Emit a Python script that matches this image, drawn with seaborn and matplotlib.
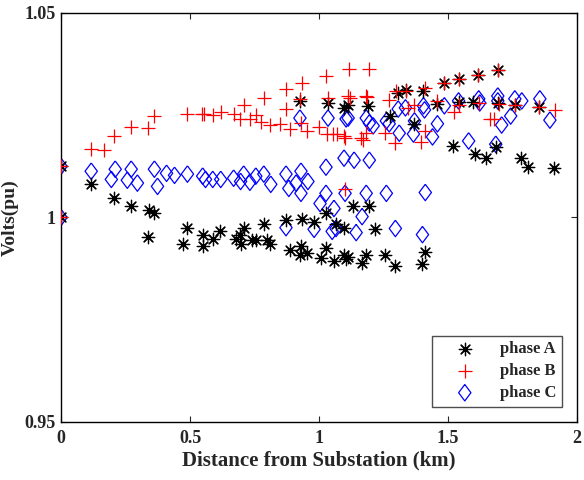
import matplotlib
matplotlib.use("Agg")
import matplotlib.pyplot as plt
import pandas as pd
import seaborn as sns

# distance from substation (km) and voltage (pu)
phase_a_km = [0, 0, 0.117, 0.206, 0.272, 0.342, 0.362, 0.339, 0.490, 0.471,
              0.549, 0.549, 0.588, 0.615, 0.677, 0.693, 0.708, 0.696, 0.739, 0.755,
              0.786, 0.798, 0.809, 0.872, 0.934, 0.981, 1.027, 1.066, 1.097, 0.887,
              0.930, 0.926, 0.953, 1.008, 1.027, 1.058, 1.097, 1.105, 1.113, 1.167,
              1.183, 1.257, 1.296, 1.401, 1.412, 1.132, 1.195, 1.218, 1.518, 1.603,
              1.646, 1.685, 1.782, 1.809, 1.911, 0.926, 1.035, 1.097, 1.113, 1.191,
              1.276, 1.370, 1.307, 1.339, 1.405, 1.459, 1.486, 1.541, 1.615, 1.693,
              1.541, 1.595, 1.693, 1.759, 1.852]
phase_a_pu = [1.0125, 1.0, 1.0081, 1.0047, 1.0029, 1.0017, 1.0012, 0.9951, 0.9973, 0.9934,
              0.9958, 0.9929, 0.9948, 0.9968, 0.9948, 0.9956, 0.9975, 0.9934, 0.9946, 0.9946,
              0.9983, 0.9946, 0.9934, 0.9993, 0.9995, 0.9988, 1.0010, 0.9983, 0.9973, 0.9921,
              0.9931, 0.9907, 0.9912, 0.9902, 0.9926, 0.9894, 0.9907, 0.9899, 0.9904, 0.9889,
              0.9909, 0.9909, 0.9882, 0.9887, 0.9916, 1.0027, 1.0027, 0.9971, 1.0174, 1.0155,
              1.0145, 1.0172, 1.0145, 1.0123, 1.0120, 1.0285, 1.0280, 1.0268, 1.0275, 1.0273,
              1.0248, 1.0229, 1.0305, 1.0312, 1.0310, 1.0278, 1.0329, 1.0339, 1.0349, 1.0361,
              1.0283, 1.0283, 1.0280, 1.0275, 1.0270]

phase_b_km = [0, 0, 0.117, 0.167, 0.206, 0.272, 0.339, 0.362, 0.490, 0.545,
              0.553, 0.591, 0.619, 0.669, 0.693, 0.708, 0.732, 0.755, 0.774, 0.786,
              0.809, 0.848, 0.872, 0.872, 0.887, 0.934, 0.926, 0.930, 0.953, 1.000,
              1.027, 1.035, 1.031, 1.054, 1.070, 1.097, 1.101, 1.117, 1.195, 1.113,
              1.183, 1.121, 1.187, 1.163, 1.183, 1.171, 1.257, 1.272, 1.296, 1.300,
              1.339, 1.346, 1.370, 1.397, 1.409, 1.409, 1.459, 1.486, 1.525, 1.541,
              1.541, 1.615, 1.619, 1.661, 1.677, 1.693, 1.696, 1.759, 1.852, 1.914,
              1.101]
phase_b_pu = [1.0125, 1.0, 1.0167, 1.0165, 1.0199, 1.0221, 1.0219, 1.0248, 1.0253, 1.0253,
              1.0253, 1.0251, 1.0258, 1.0253, 1.0241, 1.0275, 1.0241, 1.0251, 1.0233, 1.0292,
              1.0226, 1.0229, 1.0314, 1.0265, 1.0216, 1.0329, 1.0290, 1.0231, 1.0211, 1.0221,
              1.0346, 1.0292, 1.0204, 1.0204, 1.0204, 1.0199, 1.0194, 1.0364, 1.0364, 1.0297,
              1.0297, 1.0292, 1.0295, 1.0194, 1.0206, 1.0189, 1.0206, 1.0287, 1.0182, 1.0310,
              1.0310, 1.0268, 1.0275, 1.0184, 1.0211, 1.0317, 1.0285, 1.0329, 1.0258, 1.0275,
              1.0339, 1.0349, 1.0280, 1.0241, 1.0241, 1.0361, 1.0278, 1.0275, 1.0270, 1.0263,
              1.0069]

phase_c_km = [0, 0, 0.117, 0.195, 0.210, 0.272, 0.257, 0.296, 0.362, 0.374,
              0.409, 0.440, 0.490, 0.549, 0.560, 0.588, 0.619, 0.669, 0.696, 0.708,
              0.732, 0.755, 0.786, 0.813, 0.872, 0.883, 0.930, 0.911, 0.930, 0.957,
              0.926, 1.035, 1.105, 1.027, 1.097, 1.136, 1.195, 1.004, 1.027, 1.058,
              1.101, 1.183, 1.261, 1.412, 0.872, 0.981, 1.051, 1.066, 1.144, 1.167,
              1.296, 1.401, 1.113, 1.183, 1.195, 1.210, 1.272, 1.261, 1.307, 1.311,
              1.335, 1.366, 1.405, 1.409, 1.440, 1.459, 1.486, 1.541, 1.580, 1.619,
              1.623, 1.693, 1.693, 1.708, 1.743, 1.759, 1.786, 1.856, 1.895, 1.685,
              1.370]
phase_c_pu = [1.0125, 1.0, 1.0113, 1.0093, 1.0118, 1.0118, 1.0091, 1.0084, 1.0118, 1.0076,
              1.0108, 1.0103, 1.0106, 1.0101, 1.0093, 1.0093, 1.0093, 1.0096, 1.0088, 1.0106,
              1.0086, 1.0101, 1.0106, 1.0081, 1.0106, 1.0071, 1.0113, 1.0084, 1.0059, 1.0088,
              1.0243, 1.0243, 1.0241, 1.0123, 1.0145, 1.0140, 1.0140, 1.0034, 1.0059, 1.0022,
              1.0059, 1.0059, 1.0059, 1.0061, 0.9975, 0.9971, 0.9966, 0.9973, 0.9963, 1.0002,
              0.9973, 0.9958, 1.0243, 1.0243, 1.0231, 1.0224, 1.0229, 1.0236, 1.0265, 1.0206,
              1.0268, 1.0204, 1.0273, 1.0263, 1.0197, 1.0229, 1.0273, 1.0285, 1.0187, 1.0290,
              1.0280, 1.0297, 1.0285, 1.0226, 1.0248, 1.0290, 1.0285, 1.0290, 1.0238, 1.0179,
              1.0236]

x_ticks = [0, 0.5, 1, 1.5, 2]
x_tick_labels = ["0", "0.5", "1", "1.5", "2"]
y_ticks = [0.95, 1.0, 1.05]
y_tick_labels = ["0.95", "1", "1.05"]

sns.set_style("white")
plt.rcParams['font.family'] = ['Liberation Serif', 'DejaVu Serif']
plt.rcParams['font.weight'] = 'bold'

fig = plt.figure(figsize=(5.84, 4.8), dpi=100)
ax = fig.add_axes([0.1045, 0.121, 0.8835, 0.852])

df_a = pd.DataFrame({'km': phase_a_km, 'pu': phase_a_pu})
df_b = pd.DataFrame({'km': phase_b_km, 'pu': phase_b_pu})
df_c = pd.DataFrame({'km': phase_c_km, 'pu': phase_c_pu})

# matlab style diamond, a bit taller than wide
diamond = [(0, 1), (0.75, 0), (0, -1), (-0.75, 0), (0, 1)]

sns.scatterplot(data=df_c, x='km', y='pu', ax=ax, marker=diamond, s=140,
                facecolor='none', edgecolor='blue', linewidth=0.9, label='phase C', zorder=2)
sns.scatterplot(data=df_a, x='km', y='pu', ax=ax, marker=(8, 2, 0), s=80,
                color='black', linewidth=0.9, label='phase A', zorder=3)
sns.scatterplot(data=df_b, x='km', y='pu', ax=ax, marker='+', s=90,
                color='red', linewidth=0.9, label='phase B', zorder=4)

ax.set_xlim(0, 2)
ax.set_ylim(0.95, 1.05)
ax.set_xticks(x_ticks)
ax.set_xticklabels(x_tick_labels)
ax.set_yticks(y_ticks)
ax.set_yticklabels(y_tick_labels)
ax.tick_params(direction='in', length=4, width=0.8, labelsize=13,
               top=True, right=True, bottom=True, left=True, pad=4)
ax.tick_params(axis='x', pad=6)
for sp in ax.spines.values():
    sp.set_visible(True)
    sp.set_color('black')
    sp.set_linewidth(1.0)
ax.set_xlabel('Distance from Substation (km)', fontsize=15, fontweight='bold', labelpad=2)
ax.set_ylabel('Volts(pu)', fontsize=14, fontweight='bold', labelpad=4)

handles, labels = ax.get_legend_handles_labels()
order = [labels.index(l) for l in ['phase A', 'phase B', 'phase C']]
leg = ax.legend([handles[i] for i in order], [labels[i] for i in order],
                loc='lower right', fancybox=False, framealpha=1, edgecolor='0.3',
                prop={'size': 12, 'weight': 'bold'}, handlelength=3.2,
                handletextpad=0.5, borderpad=0.35, labelspacing=0.35,
                borderaxespad=0.9)
leg.get_frame().set_linewidth(1.0)

fig.savefig('out.png', dpi=100)
